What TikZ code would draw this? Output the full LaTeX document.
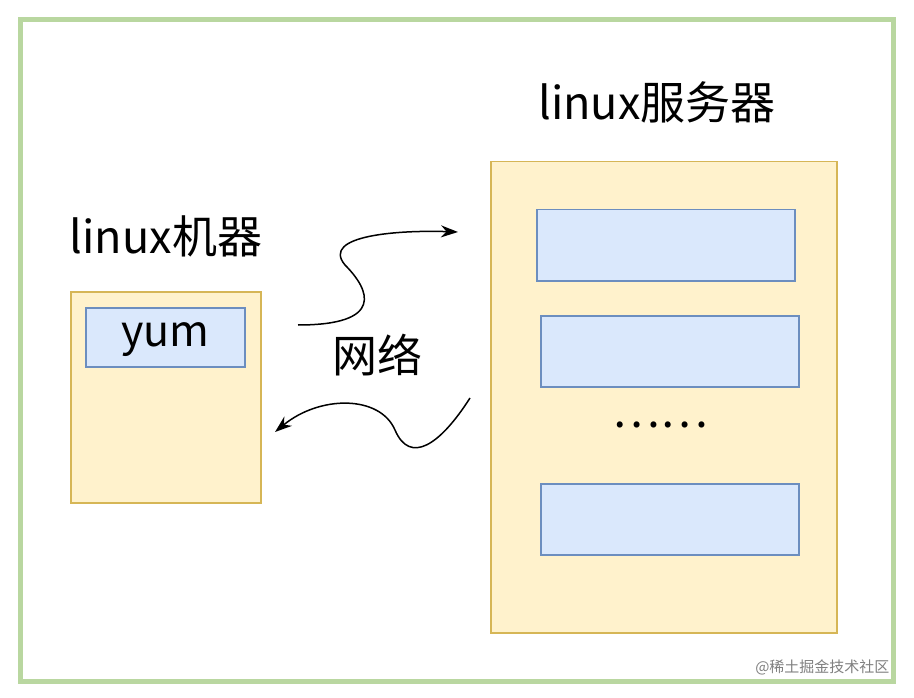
\documentclass[tikz,border=0pt]{standalone}
\usepackage{fontspec}
\setmainfont{Noto Sans CJK SC}
\usetikzlibrary{arrows.meta, positioning}
\definecolor{frameg}{HTML}{B9D7A0}
\definecolor{yfill}{HTML}{FFF2CC}
\definecolor{ydraw}{HTML}{D6B656}
\definecolor{bfill}{HTML}{DAE8FC}
\definecolor{bdraw}{HTML}{6C8EBF}
\tikzstyle{host} = [
  rectangle,
  draw=ydraw,
  fill=yfill,
  line width=1.5pt,
  anchor=north west,
  inner sep=0
]
\tikzstyle{item} = [
  rectangle,
  draw=bdraw,
  fill=bfill,
  line width=1.5pt,
  anchor=north west,
  inner sep=0
]
\tikzstyle{label} = [
  font=\fontsize{45}{50}\selectfont
]
\tikzstyle{arrow} = [
  line width=1.5pt,
  -{Stealth[length=17pt,width=12pt]}
]

\begin{document}
\begin{tikzpicture}[x=1pt,y=-1pt]
      \useasboundingbox (0,0) rectangle (914,698);
      \draw [frameg, line width=5pt, fill=white] (20,20) rectangle (893,681);

      \node [host, minimum width=190pt, minimum height=211pt] (client) at (70,291) {};
      \node [item, minimum width=159pt, minimum height=59pt] (yum) at (85,307) {};
      \node [label, font=\fontsize{43}{48}\selectfont] at ([yshift=-2pt]yum.center) {yum};
      \node [label] (clientname) at (166,236) {linux机器};

      \node [host, minimum width=346pt, minimum height=471pt] (server) at (490,161) {};
      \node [item, minimum width=258pt, minimum height=71pt] (repoa) at (536,209) {};
      \node [item, minimum width=258pt, minimum height=71pt] (repob) at (540,315) {};
      \node [item, minimum width=258pt, minimum height=71pt] (repoc) at (540,483) {};
      \node [label] (dots) at (660,425) {……};
      \node [label] (servername) at (657,102) {linux服务器};

      \node [label] (net) at (377,355) {网络};

      \coordinate (reqstart) at (298,325);
      \coordinate (reqend) at (458,232);
      \coordinate (respstart) at (470,398);
      \coordinate (respend) at (275,432);
      \draw [arrow] (reqstart) .. controls (385,325) and (370,290) .. (345,265) .. controls (320,235) and (400,230) .. (reqend);
      \draw [arrow] (respstart) .. controls (440,445) and (410,465) .. (395,430) .. controls (380,395) and (320,395) .. (respend);

      \node [text=gray, font=\fontsize{15}{18}\selectfont, anchor=east] (mark) at (893,667) {@稀土掘金技术社区};
\end{tikzpicture}
\end{document}
